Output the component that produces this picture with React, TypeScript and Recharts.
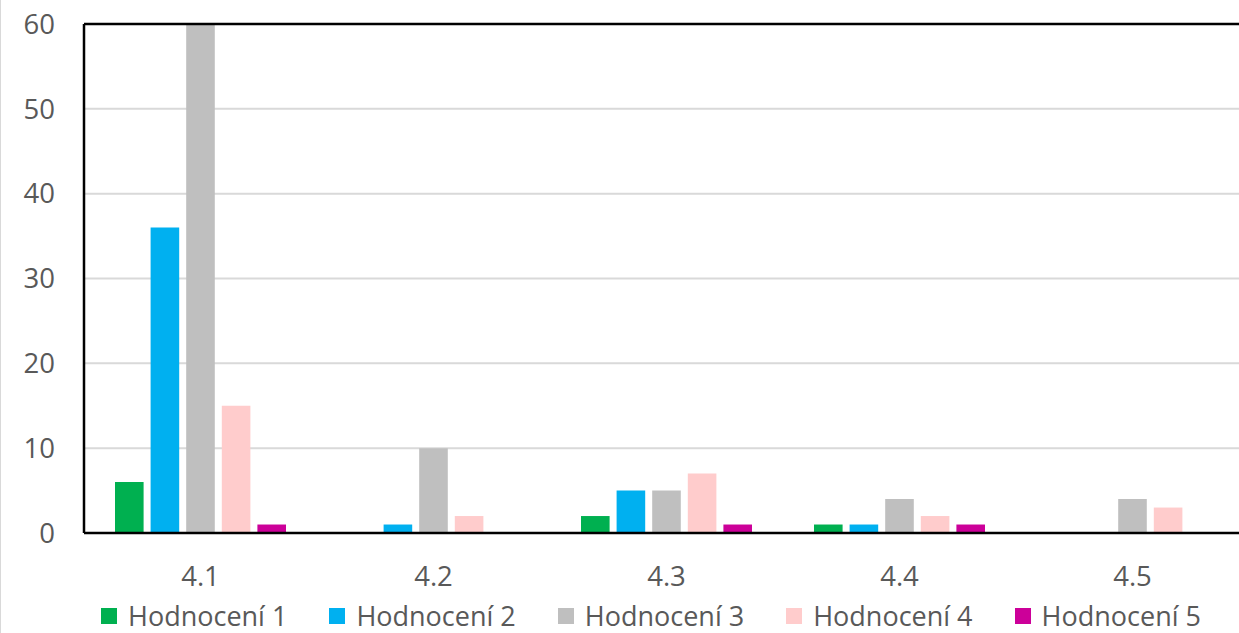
import React from "react"
import { Bar, BarChart, CartesianGrid, Legend, ReferenceLine, XAxis, YAxis } from "recharts"

const categories = ["4.1", "4.2", "4.3", "4.4", "4.5"]
const seriesNames = ["Hodnocení 1", "Hodnocení 2", "Hodnocení 3", "Hodnocení 4", "Hodnocení 5"]
const seriesColors = ["#00B050", "#00B0F0", "#BFBFBF", "#FFCCCC", "#CC0099"]

const hodnoceni1 = [6, 0, 2, 1, 0]
const hodnoceni2 = [36, 1, 5, 1, 0]
const hodnoceni3 = [60, 10, 5, 4, 4]
const hodnoceni4 = [15, 2, 7, 2, 3]
const hodnoceni5 = [1, 0, 1, 1, 0]

const yTicks = [0, 10, 20, 30, 40, 50, 60]

const seriesValues = [hodnoceni1, hodnoceni2, hodnoceni3, hodnoceni4, hodnoceni5]

const data = categories.map((name, i) => {
  const row: Record<string, string | number> = { name }
  seriesNames.forEach((s, j) => {
    row[s] = seriesValues[j][i]
  })
  return row
})

const FONT = "'Open Sans', 'Noto Sans', sans-serif"
const TEXT = "#595959"

function LegendBox({ payload }: any) {
  return (
    <div
      style={{
        display: "flex",
        alignItems: "center",
        boxSizing: "border-box",
        paddingLeft: 101,
        paddingTop: 6,
        height: 40,
        fontFamily: FONT,
        fontSize: 27,
        color: TEXT,
      }}
    >
      {(payload || []).map((p: any) => (
        <div key={p.value} style={{ display: "flex", alignItems: "center", marginRight: 42, height: 26 }}>
          <span style={{ width: 16, height: 16, background: p.color, display: "inline-block", marginRight: 11 }} />
          <span style={{ display: "inline-block", height: 26, lineHeight: "26px", whiteSpace: "nowrap" }}>{p.value}</span>
        </div>
      ))}
    </div>
  )
}

export default function App() {
  return (
    <div
      style={{
        position: "absolute",
        left: 0,
        top: 0,
        width: 1239,
        height: 633,
        overflow: "hidden",
        background: "#fff",
        boxShadow: "inset 1px 0 0 #d9d9d9",
      }}
    >
      <BarChart
        width={1260}
        height={633}
        data={data}
        margin={{ top: 24, right: 11, bottom: 0, left: 0 }}
        barSize={28.6}
        barGap={7}
      >
        <CartesianGrid vertical={false} stroke="#D9D9D9" strokeWidth={2} />
        <XAxis
          dataKey="name"
          height={60}
          axisLine={{ stroke: "#000", strokeWidth: 2.5 }}
          tickLine={false}
          tickSize={0}
          tickMargin={33}
          tick={{ fill: TEXT, fontSize: 27.5, fontFamily: FONT }}
        />
        <YAxis
          width={84}
          domain={[0, 60]}
          ticks={yTicks}
          interval={0}
          axisLine={{ stroke: "#000", strokeWidth: 2.5 }}
          tickLine={false}
          tickSize={0}
          tickMargin={29}
          tick={{ fill: TEXT, fontSize: 27.5, fontFamily: FONT }}
        />
        <ReferenceLine y={60} stroke="#000" strokeWidth={2.5} />
        {seriesNames.map((s, j) => (
          <Bar key={s} dataKey={s} fill={seriesColors[j]} isAnimationActive={false} />
        ))}
        <Legend verticalAlign="bottom" height={40} content={<LegendBox />} />
      </BarChart>
    </div>
  )
}
